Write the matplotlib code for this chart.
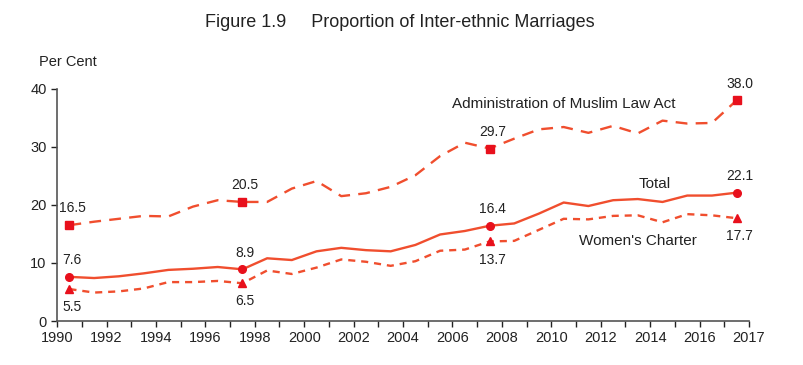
import numpy as np
import matplotlib.pyplot as plt

plt.rcParams['font.family'] = ['Liberation Sans', 'DejaVu Sans']

years = list(range(1990, 2018))
total = [7.6, 7.4, 7.7, 8.2, 8.8, 9.0, 9.3, 8.9, 10.8, 10.5, 12.0, 12.6, 12.2, 12.0,
         13.1, 14.9, 15.5, 16.4, 16.8, 18.5, 20.4, 19.8, 20.8, 21.0, 20.5, 21.6, 21.6, 22.1]
womens_charter = [5.5, 4.9, 5.1, 5.6, 6.7, 6.7, 6.9, 6.5, 8.7, 8.1, 9.2, 10.6, 10.2, 9.5,
                  10.3, 12.1, 12.3, 13.7, 13.8, 15.7, 17.6, 17.5, 18.1, 18.2, 17.0, 18.4, 18.2, 17.7]
amla = [16.5, 17.1, 17.6, 18.1, 18.0, 19.7, 20.8, 20.5, 20.5, 22.8, 24.1, 21.5, 22.0, 23.1,
        25.1, 28.4, 30.7, 29.7, 31.4, 33.0, 33.4, 32.4, 33.6, 32.3, 34.5, 34.0, 34.1, 38.0]
marked_years = [1990, 1997, 2007, 2017]
tick_labels = ['1990', '1992', '1994', '1996', '1998', '2000', '2002', '2004',
               '2006', '2008', '2010', '2012', '2014', '2016', '2017']

line_col = '#F04E2E'
mark_col = '#E8101C'
text_col = '#222222'

fig = plt.figure(figsize=(8.04, 3.65), dpi=100)
ax = fig.add_axes([0.071, 0.1205, 0.8606, 0.6365])

x = np.arange(len(years))
marks = [years.index(y) for y in marked_years]

ax.plot(x, amla, color=line_col, lw=1.7, dashes=(5, 3.5))
ax.plot(x, total, color=line_col, lw=1.7)
ax.plot(x, womens_charter, color=line_col, lw=1.7, dashes=(3, 2.5))
ax.plot(x[marks], np.array(amla)[marks], 's', color=mark_col, ms=5.5, ls='none')
ax.plot(x[marks], np.array(total)[marks], 'o', color=mark_col, ms=5.5, ls='none')
ax.plot(x[marks], np.array(womens_charter)[marks], '^', color=mark_col, ms=5.5, ls='none')

for i in marks:
    ax.annotate(f'{amla[i]:.1f}', (x[i], amla[i]), xytext=(2, 7), textcoords='offset points',
                ha='center', va='bottom', fontsize=10, color=text_col)
    ax.annotate(f'{total[i]:.1f}', (x[i], total[i]), xytext=(2, 7), textcoords='offset points',
                ha='center', va='bottom', fontsize=10, color=text_col)
    ax.annotate(f'{womens_charter[i]:.1f}', (x[i], womens_charter[i]), xytext=(2, -8),
                textcoords='offset points', ha='center', va='top', fontsize=10, color=text_col)

# series labels
ax.text(20.0, 37.3, 'Administration of Muslim Law Act', ha='center', va='center', fontsize=11, color=text_col)
ax.text(23.7, 23.6, 'Total', ha='center', va='center', fontsize=11, color=text_col)
ax.text(23.0, 13.8, "Women's Charter", ha='center', va='center', fontsize=11, color=text_col)

ax.set_xlim(-0.5, len(years) - 0.5)
ax.set_ylim(0, 40)
ax.set_yticks([0, 10, 20, 30, 40])
ax.set_xticks(np.arange(len(years) + 1) - 0.5, minor=True)
major_pos = [k - 0.5 for k in range(0, 28, 2)] + [len(years) - 0.5]
ax.set_xticks(major_pos)
ax.set_xticklabels(tick_labels)
ax.tick_params(axis='both', labelsize=10.5, colors=text_col, length=4, width=1, direction='out')
ax.tick_params(axis='x', which='minor', length=4, width=1, color=text_col)
ax.tick_params(axis='x', pad=3)

for s in ['top', 'right']:
    ax.spines[s].set_visible(False)
for s in ['left', 'bottom']:
    ax.spines[s].set_color('#555555')
    ax.spines[s].set_linewidth(1.2)

fig.text(0.048, 0.83, 'Per Cent', fontsize=10.5, color=text_col, va='center')
fig.text(0.497, 0.937, 'Figure 1.9     Proportion of Inter-ethnic Marriages',
         ha='center', va='center', fontsize=13, color=text_col)

fig.savefig('out.png', dpi=100)
